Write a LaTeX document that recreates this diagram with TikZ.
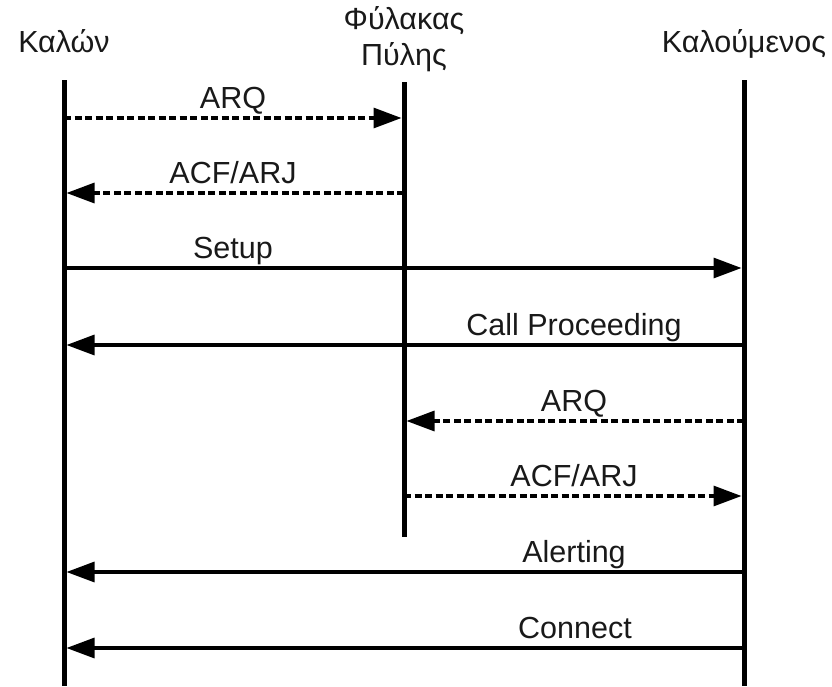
\documentclass[tikz,border=0pt]{standalone}
\usepackage{fontspec}
\setmainfont{Liberation Sans}
\usetikzlibrary{arrows.meta}
\begin{document}
\begin{tikzpicture}[x=1pt,y=-1pt,
  lifeline/.style={line width=5pt},
  msg/.style={line width=3.2pt,-{Triangle[length=28pt,width=20pt]}},
  asyncmsg/.style={msg,dash pattern=on 7pt off 3.5pt},
  lbl/.style={font=\fontsize{30.5}{37}\selectfont,anchor=base,inner sep=0pt,text=black!90},
  head/.style={font=\fontsize{30.5}{37}\selectfont,align=center,inner sep=0pt,text=black!90}]
\useasboundingbox (0,0) rectangle (832,686);
% headers
\node[head,anchor=base] (caller) at (64,52) {Καλών};
\node[head,anchor=base] (gk1) at (404,29) {Φύλακας};
\node[head,anchor=base] (gk2) at (404,65) {Πύλης};
\node[head,anchor=base] (callee) at (744,52) {Καλούμενος};
% lifelines
\coordinate (ct) at (64,80);  \coordinate (cb) at (64,686);
\coordinate (gt) at (404,82); \coordinate (gb) at (404,537);
\coordinate (et) at (744,80); \coordinate (eb) at (744,686);
\draw[lifeline] (ct) -- (cb);
\draw[lifeline] (gt) -- (gb);
\draw[lifeline] (et) -- (eb);
% messages
\coordinate (m1s) at (64,118);  \coordinate (m1e) at (401.5,118);
\coordinate (m2s) at (404,193); \coordinate (m2e) at (66.5,193);
\coordinate (m3s) at (64,268);  \coordinate (m3e) at (741.5,268);
\coordinate (m4s) at (744,345); \coordinate (m4e) at (66.5,345);
\coordinate (m5s) at (744,421); \coordinate (m5e) at (406.5,421);
\coordinate (m6s) at (404,496); \coordinate (m6e) at (741.5,496);
\coordinate (m7s) at (744,572); \coordinate (m7e) at (66.5,572);
\coordinate (m8s) at (744,648); \coordinate (m8e) at (66.5,648);
\draw[asyncmsg] (m1s) -- (m1e);
\draw[asyncmsg] (m2s) -- (m2e);
\draw[msg] (m3s) -- (m3e);
\draw[msg] (m4s) -- (m4e);
\draw[asyncmsg] (m5s) -- (m5e);
\draw[asyncmsg] (m6s) -- (m6e);
\draw[msg] (m7s) -- (m7e);
\draw[msg] (m8s) -- (m8e);
% labels
\node[lbl] (l1) at (233,108) {ARQ};
\node[lbl] (l2) at (233,183) {ACF/ARJ};
\node[lbl] (l3) at (233,258) {Setup};
\node[lbl] (l4) at (574,335) {Call Proceeding};
\node[lbl] (l5) at (574,411) {ARQ};
\node[lbl] (l6) at (574,486) {ACF/ARJ};
\node[lbl] (l7) at (574,562) {Alerting};
\node[lbl] (l8) at (575,638) {Connect};
\end{tikzpicture}
\end{document}
